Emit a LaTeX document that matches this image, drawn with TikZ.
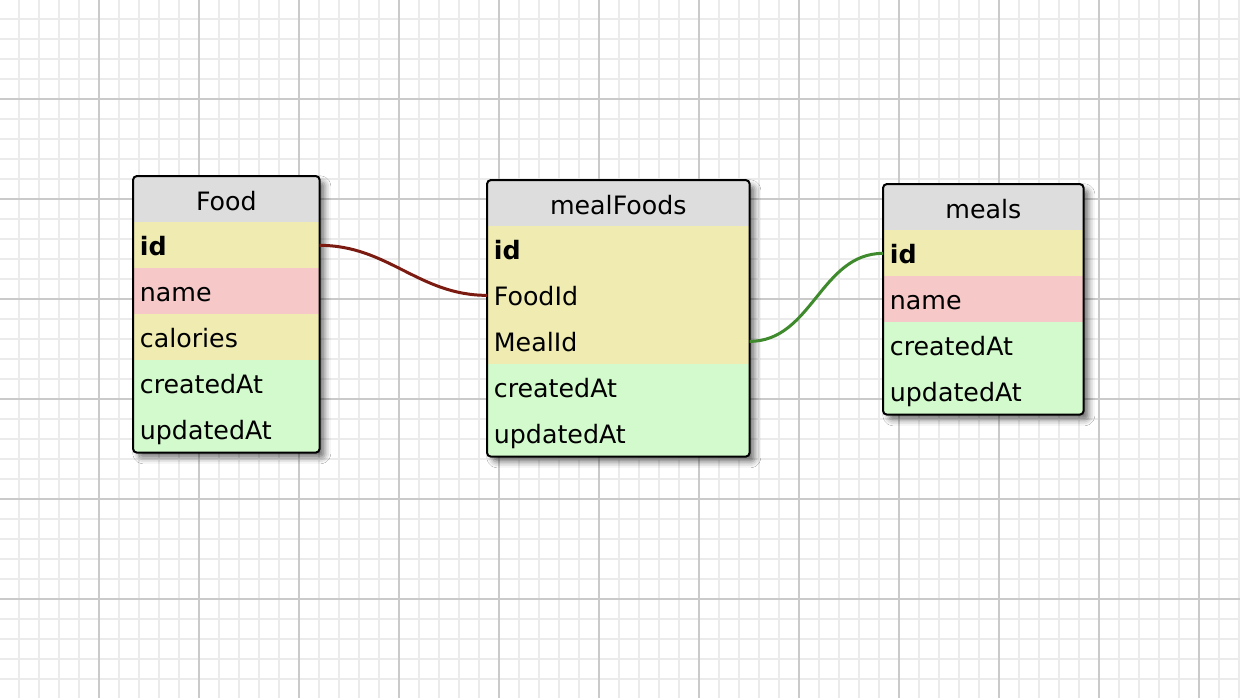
\documentclass[tikz,border=0pt]{standalone}
\usepackage{fontspec}
\setmainfont{DejaVu Sans}
\usetikzlibrary{positioning,shadows.blur}
\definecolor{hdrgray}{HTML}{DDDDDD}
\definecolor{keyyellow}{HTML}{EFEBB1}
\definecolor{txtpink}{HTML}{F6C8C8}
\definecolor{timegreen}{HTML}{D3FACC}
\definecolor{gridminor}{HTML}{EBEBEB}
\definecolor{gridmajor}{HTML}{CACACA}
\definecolor{linkred}{HTML}{7A1A10}
\definecolor{linkgreen}{HTML}{3E8A2C}
\tikzset{
  tablebox/.style={anchor=north west,inner sep=0pt,fill=white,rounded corners=0.08cm,
    blur shadow={shadow xshift=0.11cm,shadow yshift=-0.11cm,shadow blur radius=0.12cm,shadow opacity=55}},
  tableframe/.style={draw=black,line width=0.04cm,rounded corners=0.08cm},
  tabletitle/.style={anchor=north west,fill=hdrgray,inner sep=0pt,minimum height=0.92cm,
    text height=0.43cm,text depth=0pt,font=\fontsize{14.4}{17}\selectfont},
  field/.style={anchor=north west,inner xsep=0.13cm,inner ysep=0pt,minimum height=0.92cm,
    text height=0.41cm,text depth=0pt,align=left,font=\fontsize{14.4}{17}\selectfont},
  link/.style={line width=0.06cm,out=0,in=180}
}
\begin{document}
\begin{tikzpicture}[x=0.02cm,y=-0.02cm]
\path[use as bounding box,fill=white] (0,0) rectangle (1240,698);
% grid
\foreach \x in {19,39,...,1239} \draw[gridminor,line width=0.04cm] (\x,0)--(\x,698);
\foreach \y in {19,39,...,697} \draw[gridminor,line width=0.04cm] (0,\y)--(1240,\y);
\foreach \x in {99,199,...,1199} \draw[gridmajor,line width=0.04cm] (\x,0)--(\x,698);
\foreach \y in {99,199,...,599} \draw[gridmajor,line width=0.04cm] (0,\y)--(1240,\y);

% Food
\node[tablebox,minimum width=3.72cm,minimum height=5.52cm] (food) at (133,176) {};
\begin{scope}
  \clip[rounded corners=0.08cm] (food.north west) rectangle (food.south east);
  \node[tabletitle,minimum width=3.72cm] (food-title) at (133,176) {Food};
  \foreach \f/\c [count=\i] in {\textbf{id}/keyyellow,name/txtpink,calories/keyyellow,createdAt/timegreen,updatedAt/timegreen}
    \node[field,fill=\c,text width=3.46cm] (food-\i) at (133,{176+46*\i}) {\f};
\end{scope}
\draw[tableframe] (food.north west) rectangle (food.south east);

% mealFoods
\node[tablebox,minimum width=5.24cm,minimum height=5.52cm] (mf) at (487,180) {};
\begin{scope}
  \clip[rounded corners=0.08cm] (mf.north west) rectangle (mf.south east);
  \node[tabletitle,minimum width=5.24cm] (mf-title) at (487,180) {mealFoods};
  \foreach \f/\c [count=\i] in {\textbf{id}/keyyellow,FoodId/keyyellow,MealId/keyyellow,createdAt/timegreen,updatedAt/timegreen}
    \node[field,fill=\c,text width=4.98cm] (mf-\i) at (487,{180+46*\i}) {\f};
\end{scope}
\draw[tableframe] (mf.north west) rectangle (mf.south east);

% meals
\node[tablebox,minimum width=4.0cm,minimum height=4.6cm] (meals) at (883,184) {};
\begin{scope}
  \clip[rounded corners=0.08cm] (meals.north west) rectangle (meals.south east);
  \node[tabletitle,minimum width=4.0cm] (meals-title) at (883,184) {meals};
  \foreach \f/\c [count=\i] in {\textbf{id}/keyyellow,name/txtpink,createdAt/timegreen,updatedAt/timegreen}
    \node[field,fill=\c,text width=3.74cm] (meals-\i) at (883,{184+46*\i}) {\f};
\end{scope}
\draw[tableframe] (meals.north west) rectangle (meals.south east);

% links
\draw[link,linkred] (food-1.east) to (mf-2.west);
\draw[link,linkgreen] (mf-3.east) to (meals-1.west);
\end{tikzpicture}
\end{document}
